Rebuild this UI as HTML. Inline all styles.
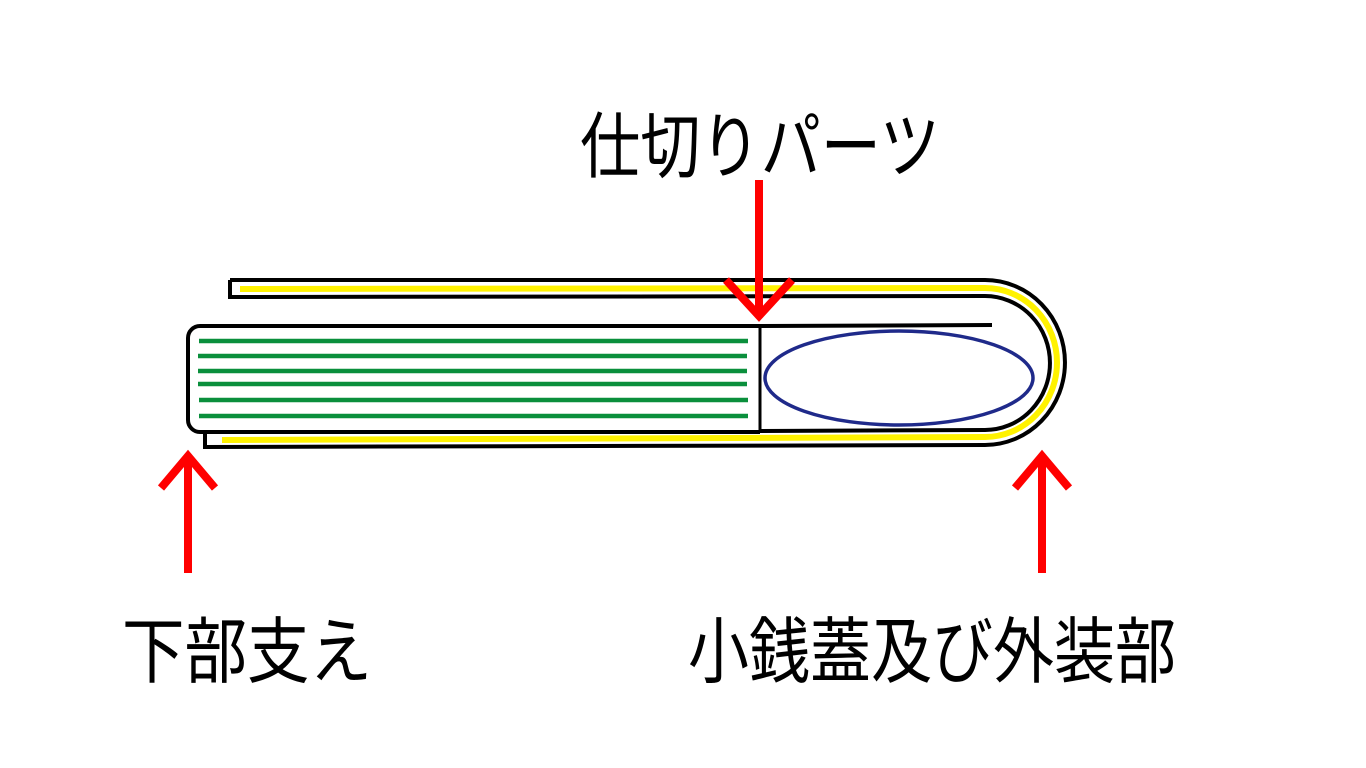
<!DOCTYPE html>
<html><head><meta charset="utf-8"><style>html,body{margin:0;padding:0;background:#fff}svg{display:block}</style></head>
<body>
<svg width="1366" height="768" viewBox="0 0 1366 768" xmlns="http://www.w3.org/2000/svg">
<rect width="1366" height="768" fill="#fff"/>
<!-- outer cover -->
<path d="M230 280 L985 280 A80 82.5 0 0 1 985 445 L205 447 L205 433" fill="none" stroke="#000" stroke-width="4"/>
<path d="M230 280 L230 297 L985 296 A65 67 0 0 1 985 430 L760 431" fill="none" stroke="#000" stroke-width="4"/>
<path d="M240 289 L985 288 A72 74.5 0 0 1 985 437 L222 440" fill="none" stroke="#fff200" stroke-width="6"/>
<!-- book -->
<path d="M760 326 L200 326 A12 12 0 0 0 188 338 L188 420 A12 12 0 0 0 200 432 L760 432" fill="none" stroke="#000" stroke-width="4"/>
<line x1="760" y1="326" x2="992" y2="325" stroke="#000" stroke-width="4"/>
<line x1="760" y1="326" x2="760" y2="430" stroke="#000" stroke-width="3"/>
<g stroke="#0a8f3c" stroke-width="4.5">
<line x1="199" y1="341" x2="748" y2="341"/>
<line x1="198" y1="356" x2="747" y2="356"/>
<line x1="198" y1="371" x2="747" y2="371"/>
<line x1="198" y1="384" x2="747" y2="384"/>
<line x1="199" y1="400" x2="748" y2="400"/>
<line x1="199" y1="416" x2="748" y2="416"/>
</g>
<ellipse cx="899" cy="378" rx="134" ry="47" fill="none" stroke="#1f2a8a" stroke-width="3.5"/>
<!-- arrows -->
<g stroke="#ff0000" stroke-width="8" fill="none">
<line x1="759" y1="180" x2="759" y2="316"/>
<polyline points="726,280 759,316 792,280"/>
<line x1="188" y1="573" x2="188" y2="456"/>
<polyline points="161,488 188,456 215,488"/>
<line x1="1042" y1="573" x2="1042" y2="456"/>
<polyline points="1015,488 1042,456 1069,488"/>
</g>
<g font-family="'Liberation Sans','Noto Sans CJK JP',sans-serif" font-size="72" fill="#000">
<text x="580" y="172" textLength="360" lengthAdjust="spacingAndGlyphs">仕切りパーツ</text>
<text x="122" y="677" textLength="250" lengthAdjust="spacingAndGlyphs">下部支え</text>
<text x="688" y="677" textLength="488" lengthAdjust="spacingAndGlyphs">小銭蓋及び外装部</text>
</g>
</svg>
</body></html>
